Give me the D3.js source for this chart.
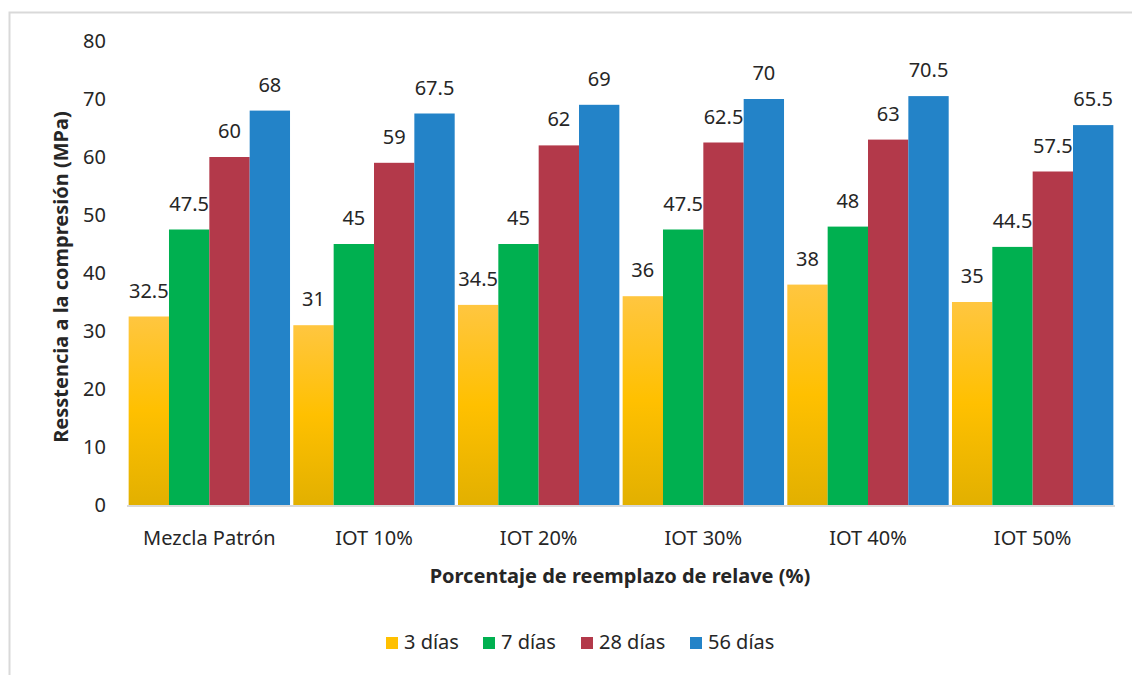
<!DOCTYPE html>
<html>
<head>
<meta charset="utf-8">
<script src="https://cdn.jsdelivr.net/npm/d3@7"></script>
<style>
  body { margin: 0; background: #fff; }
  svg text { font-family: "Noto Sans", "Open Sans", sans-serif; fill: #262626; }
</style>
</head>
<body>
<div class="vizHolder"></div>
<script>
var width = 1132,
    height = 675;

// data
var categories = ['Mezcla Patrón', 'IOT 10%', 'IOT 20%', 'IOT 30%', 'IOT 40%', 'IOT 50%'];
var seriesNames = ['3 días', '7 días', '28 días', '56 días'];
var dias3  = [32.5, 31, 34.5, 36, 38, 35];
var dias7  = [47.5, 45, 45, 47.5, 48, 44.5];
var dias28 = [60, 59, 62, 62.5, 63, 57.5];
var dias56 = [68, 67.5, 69, 70, 70.5, 65.5];
var yTicks = [0, 10, 20, 30, 40, 50, 60, 70, 80];

var series = [dias3, dias7, dias28, dias56];
var colors = ['url(#gradYellow)', '#00b050', '#b3394a', '#2383c8'];
var legendColors = ['#ffc000', '#00b050', '#b3394a', '#2383c8'];

var svgContainer = d3.select('.vizHolder')
                     .append('svg')
                     .attr('width', width)
                     .attr('height', height);

// yellow bars have a soft vertical gradient
var grad = svgContainer.append('defs')
    .append('linearGradient')
    .attr('id', 'gradYellow')
    .attr('x1', 0).attr('y1', 0).attr('x2', 0).attr('y2', 1);
grad.append('stop').attr('offset', '0%').attr('stop-color', '#ffc640');
grad.append('stop').attr('offset', '50%').attr('stop-color', '#ffc000');
grad.append('stop').attr('offset', '100%').attr('stop-color', '#e2b000');

// outer frame (right and bottom edges fall off the picture)
svgContainer.append('rect')
    .attr('x', 9.5).attr('y', 12.5)
    .attr('width', 1200).attr('height', 800)
    .attr('fill', 'none')
    .attr('stroke', '#d9d9d9')
    .attr('stroke-width', 2);

var plotLeft = 127, plotRight = 1115, plotBottom = 505;

var xScale = d3.scaleBand()
    .domain(categories)
    .range([plotLeft, plotRight])
    .paddingInner(0.02)
    .paddingOuter(0.01);

var xInner = d3.scaleBand()
    .domain(d3.range(series.length))
    .range([0, xScale.bandwidth()]);

var yScale = d3.scaleLinear()
    .domain([0, 80])
    .range([plotBottom, plotBottom - 464]);

// y axis labels (no line, no ticks)
var yAxis = d3.axisLeft(yScale)
    .tickValues(yTicks)
    .tickSize(0)
    .tickPadding(0);

var yAxisGroup = svgContainer.append('g')
    .attr('id', 'y-axis')
    .attr('transform', 'translate(106, 0)')
    .call(yAxis);
yAxisGroup.select('.domain').remove();
yAxisGroup.selectAll('text')
    .style('font-family', '"Noto Sans", sans-serif')
    .style('font-size', '20px')
    .attr('fill', '#262626');

// bars
series.forEach(function(vals, si){
    svgContainer.append('g')
        .selectAll('rect')
        .data(vals)
        .enter()
        .append('rect')
        .attr('x', function(d, i){ return xScale(categories[i]) + xInner(si); })
        .attr('y', function(d){ return yScale(d); })
        .attr('width', xInner.bandwidth())
        .attr('height', function(d){ return yScale(0) - yScale(d); })
        .attr('fill', colors[si]);

    // data labels
    svgContainer.append('g')
        .selectAll('text')
        .data(vals)
        .enter()
        .append('text')
        .attr('x', function(d, i){ return xScale(categories[i]) + xInner(si) + xInner.bandwidth() / 2; })
        .attr('y', function(d){ return yScale(d) - 19; })
        .attr('text-anchor', 'middle')
        .style('font-size', '20px')
        .text(function(d){ return d; });
});

// x axis
var xAxis = d3.axisBottom(xScale).tickSize(0).tickPadding(26);
var xAxisGroup = svgContainer.append('g')
    .attr('id', 'x-axis')
    .attr('transform', 'translate(0,' + plotBottom + ')')
    .call(xAxis);
xAxisGroup.select('.domain')
    .attr('stroke', '#d9d9d9')
    .attr('stroke-width', 2)
    .attr('d', 'M' + plotLeft + ',1H' + plotRight);
xAxisGroup.selectAll('text')
    .style('font-family', '"Noto Sans", sans-serif')
    .style('font-size', '20px')
    .attr('fill', '#262626');

// axis titles
svgContainer.append('text')
    .attr('transform', 'translate(68,277) rotate(-90)')
    .attr('text-anchor', 'middle')
    .style('font-size', '20px')
    .style('font-weight', 'bold')
    .attr('fill', '#0d0d0d')
    .text('Resstencia a la compresión (MPa)');

svgContainer.append('text')
    .attr('x', 620)
    .attr('y', 583)
    .attr('text-anchor', 'middle')
    .style('font-size', '20px')
    .style('font-weight', 'bold')
    .text('Porcentaje de reemplazo de relave (%)');

// legend
var legendX = [386, 483, 581, 690];
var legend = svgContainer.append('g').selectAll('g')
    .data(seriesNames)
    .enter()
    .append('g')
    .attr('transform', function(d, i){ return 'translate(' + legendX[i] + ',637)'; });
legend.append('rect')
    .attr('width', 12).attr('height', 12)
    .attr('fill', function(d, i){ return legendColors[i]; });
legend.append('text')
    .attr('x', 18)
    .attr('y', 12)
    .style('font-size', '20px')
    .text(function(d){ return d; });
</script>
</body>
</html>
